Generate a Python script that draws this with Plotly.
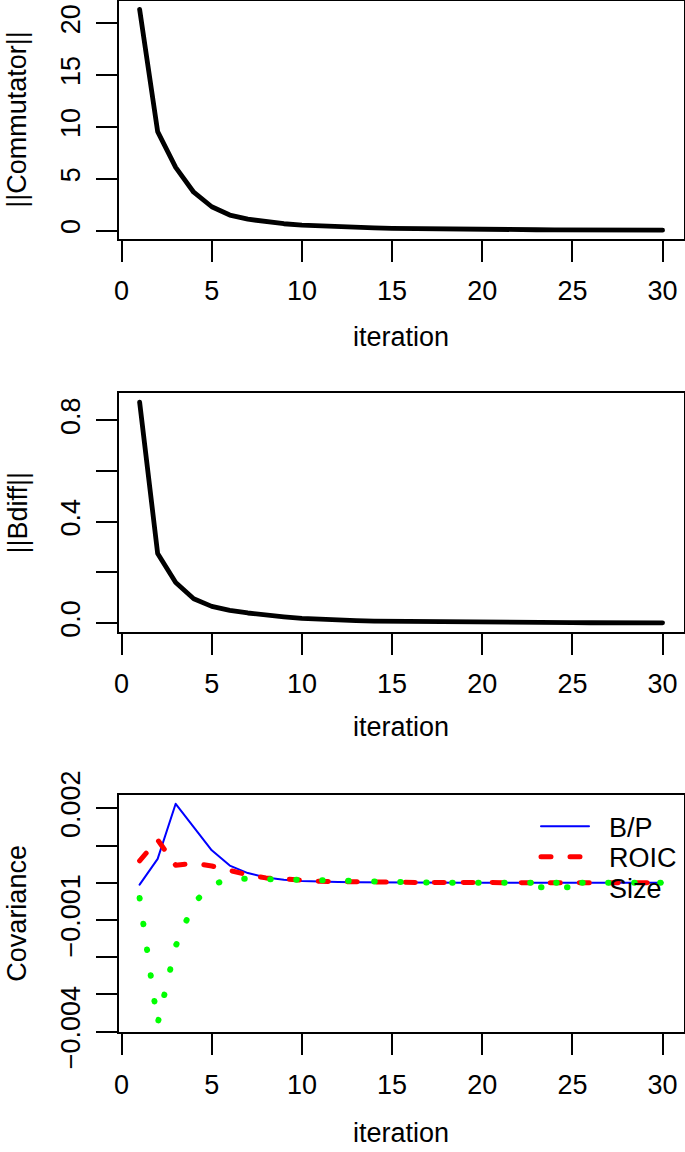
import plotly.graph_objects as go

iterations = list(range(1, 31))

commutator = [21.35, 9.55, 6.1, 3.7, 2.3, 1.5, 1.1, 0.85, 0.66, 0.52,
              0.43, 0.36, 0.30, 0.26, 0.22, 0.19, 0.17, 0.15, 0.13, 0.12,
              0.10, 0.09, 0.08, 0.075, 0.07, 0.06, 0.055, 0.05, 0.045, 0.04]

bdiff = [0.872, 0.275, 0.16, 0.096, 0.066, 0.05, 0.04, 0.031, 0.025, 0.019,
         0.015, 0.012, 0.010, 0.008, 0.007, 0.006, 0.005, 0.004, 0.0035, 0.003,
         0.0026, 0.0023, 0.002, 0.0018, 0.0016, 0.0014, 0.0013, 0.0012, 0.0011, 0.001]

bp = [-0.00005, 0.00064, 0.00212, 0.00151, 0.00087, 0.00046, 0.00026, 0.00014, 0.00008, 0.00005,
      0.00003, 0.00002, 0.000015, 0.00001, 0.00001, 0.000005, 0.000004, 0.000003, 0.000002, 0.000002,
      0.000001, 0.000001, 0.000001, 0.0, 0.0, 0.0, 0.0, 0.0, 0.0, 0.0]

roic = [0.00059, 0.00115, 0.00047, 0.00052, 0.00045, 0.00032, 0.00021, 0.00013, 0.00009, 0.00006,
        0.00004, 0.00003, 0.00002, 0.000015, 0.00001, 0.000008, 0.000006, 0.000004, 0.000003, 0.000002,
        0.000002, 0.000001, 0.000001, 0.000001, 0.0, 0.0, 0.0, 0.0, 0.0, 0.0]

size = [-0.00041, -0.00378, -0.0017, -0.00055, -0.00006, 0.00011, 0.00011, 0.0001, 0.00007, 0.00005,
        0.00003, 0.00002, 0.000015, 0.00001, 0.000008, 0.000005, 0.000004, 0.000003, 0.000002, 0.000001,
        0.000001, 0.0, 0.0, 0.0, 0.0, 0.0, 0.0, 0.0, 0.0, 0.0]

series_names = ["B/P", "ROIC", "Size"]

x_ticks = [0, 5, 10, 15, 20, 25, 30]
y1_ticks = [0, 5, 10, 15, 20]
y1_text = ["0", "5", "10", "15", "20"]
y2_ticks = [0.0, 0.2, 0.4, 0.6, 0.8]
y2_text = ["0.0", "", "0.4", "", "0.8"]
y3_ticks = [0.002, 0.001, 0.0, -0.001, -0.002, -0.003, -0.004]
y3_text = ["0.002", "", "", "\u22120.001", "", "", "\u22120.004"]


def r_range(vals):
    lo, hi = min(vals), max(vals)
    ext = 0.04 * (hi - lo)
    return [lo - ext, hi + ext]


W, H = 685, 1152
FONT = "Liberation Sans, Arial, Helvetica, sans-serif"
FS = 27
PAD = "\u00a0\u00a0"

fig = go.Figure()
fig.add_trace(go.Scatter(x=iterations, y=commutator, mode="lines",
                         line=dict(color="black", width=4.8), showlegend=False,
                         xaxis="x", yaxis="y"))
fig.add_trace(go.Scatter(x=iterations, y=bdiff, mode="lines",
                         line=dict(color="black", width=4.8), showlegend=False,
                         xaxis="x2", yaxis="y2"))
fig.add_trace(go.Scatter(x=iterations, y=bp, mode="lines", name=PAD + series_names[0],
                         line=dict(color="#0000FF", width=2),
                         xaxis="x3", yaxis="y3", legend="legend"))
fig.add_trace(go.Scatter(x=iterations, y=roic, mode="lines", name=PAD + series_names[1],
                         line=dict(color="#FF0000", width=5, dash="10px,19px"),
                         xaxis="x3", yaxis="y3", legend="legend2"))
fig.add_trace(go.Scatter(x=iterations, y=size, mode="lines", name=PAD + series_names[2],
                         line=dict(color="#00FF00", width=6, dash="0.5px,25.5px"),
                         xaxis="x3", yaxis="y3", legend="legend3"))

xdom = [118.7 / W, 683.5 / W]
boxes = [(0.5, 239.0), (393.3, 631.7), (795.0, 1032.3)]
ydoms = [[1 - b / H, 1 - t / H] for t, b in boxes]

common = dict(showline=True, linewidth=2, linecolor="black", mirror=True,
              ticks="outside", ticklen=21, tickwidth=2, tickcolor="black",
              showgrid=False, zeroline=False, automargin=False,
              tickfont=dict(family=FONT, size=FS, color="black"))

xr = [-0.16, 31.16]
for i, suffix in enumerate(["", "2", "3"]):
    fig.layout["xaxis" + suffix] = dict(domain=xdom, range=xr, tickvals=x_ticks,
                                        anchor="y" + suffix, ticklabelstandoff=6, **common)

fig.layout["yaxis"] = dict(domain=ydoms[0], range=r_range(commutator), tickvals=y1_ticks,
                           ticktext=y1_text, tickangle=-90, anchor="x", ticklabelstandoff=5, **common)
fig.layout["yaxis2"] = dict(domain=ydoms[1], range=r_range(bdiff), tickvals=y2_ticks,
                            ticktext=y2_text, tickangle=-90, anchor="x2", ticklabelstandoff=5, **common)
fig.layout["yaxis3"] = dict(domain=ydoms[2], range=r_range(bp + roic + size), tickvals=y3_ticks,
                            ticktext=y3_text, tickangle=-90, anchor="x3", ticklabelstandoff=5, **common)

annotations = []
xt_centers = [337, 726.7, 1133]
for yc in xt_centers:
    annotations.append(dict(text="iteration", x=(xdom[0] + xdom[1]) / 2, y=1 - yc / H,
                            xref="paper", yref="paper", xanchor="center", yanchor="middle",
                            showarrow=False, font=dict(family=FONT, size=FS, color="black")))
ytitles = ["||Commutator||", "||Bdiff||", "Covariance"]
for (t, b), txt in zip(boxes, ytitles):
    annotations.append(dict(text=txt, x=17 / W, y=1 - ((t + b) / 2) / H, textangle=-90,
                            xref="paper", yref="paper", xanchor="center", yanchor="middle",
                            showarrow=False, font=dict(family=FONT, size=FS, color="black")))

legend_rows = [826.7, 857.3, 887.7]
leg_common = dict(x=536 / W, xanchor="left", yanchor="middle",
                  bgcolor="rgba(0,0,0,0)", borderwidth=0, itemwidth=48,
                  font=dict(family=FONT, size=FS, color="black"))

fig.update_layout(
    template="none",
    width=W, height=H,
    margin=dict(l=0, r=0, t=0, b=0, autoexpand=False),
    paper_bgcolor="white", plot_bgcolor="white",
    font=dict(family=FONT, size=FS, color="black"),
    annotations=annotations,
    legend=dict(y=1 - legend_rows[0] / H, **leg_common),
    legend2=dict(y=1 - legend_rows[1] / H, **leg_common),
    legend3=dict(y=1 - legend_rows[2] / H, **leg_common),
)

post = ("document.body.style.margin='0';"
        "document.documentElement.style.overflow='hidden';"
        "var s=document.createElement('style');"
        "s.innerHTML='body{margin:0 !important;} .js-line{stroke-linecap:round !important;stroke-linejoin:round !important;}';"
        "document.head.appendChild(s);")
fig.write_html("out.html", post_script=post, config={"displayModeBar": False})
